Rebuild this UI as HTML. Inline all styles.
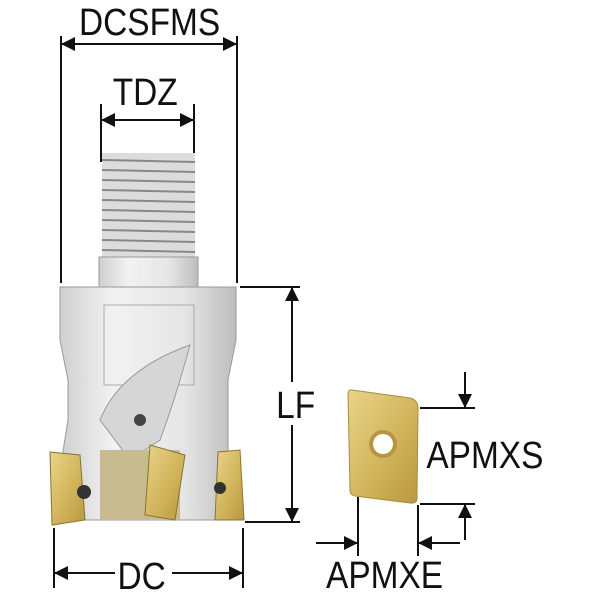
<!DOCTYPE html>
<html><head><style>
html,body{margin:0;padding:0;background:#fff;width:600px;height:600px;overflow:hidden}
text{font-family:"Liberation Sans",sans-serif;fill:#111}
</style></head><body>
<svg width="600" height="600" viewBox="0 0 600 600" xmlns="http://www.w3.org/2000/svg">
<defs>
<linearGradient id="body" x1="0" x2="1" y1="0" y2="0">
<stop offset="0" stop-color="#cfcfcf"/><stop offset="0.3" stop-color="#f2f2f2"/><stop offset="0.7" stop-color="#e6e6e6"/><stop offset="1" stop-color="#bdbdbd"/>
</linearGradient>
<linearGradient id="gold" x1="0" x2="1" y1="0" y2="1">
<stop offset="0" stop-color="#e8d48a"/><stop offset="0.5" stop-color="#d4b860"/><stop offset="1" stop-color="#b8983e"/>
</linearGradient>
<marker id="b" viewBox="0 0 10 10" refX="10" refY="5" markerWidth="18" markerHeight="14" orient="auto-start-reverse" markerUnits="userSpaceOnUse"><path d="M0,0L10,5L0,10z" fill="#111"/></marker>
</defs>
<g stroke="#111" stroke-width="2" fill="none">
<line x1="61" y1="36" x2="61" y2="283"/><line x1="237" y1="36" x2="237" y2="283"/>
<line x1="61" y1="44" x2="237" y2="44" marker-start="url(#b)" marker-end="url(#b)"/>
<line x1="101" y1="104" x2="101" y2="162"/><line x1="194" y1="104" x2="194" y2="162"/>
<line x1="101" y1="120" x2="194" y2="120" marker-start="url(#b)" marker-end="url(#b)"/>
<line x1="240" y1="287" x2="300" y2="287"/><line x1="245" y1="522" x2="300" y2="522"/>
<line x1="292" y1="287" x2="292" y2="382" marker-start="url(#b)"/>
<line x1="292" y1="425" x2="292" y2="522" marker-end="url(#b)"/>
<line x1="54" y1="528" x2="54" y2="588"/><line x1="243" y1="528" x2="243" y2="588"/>
<line x1="54" y1="573" x2="115" y2="573" marker-start="url(#b)"/>
<line x1="172" y1="573" x2="243" y2="573" marker-end="url(#b)"/>
<line x1="420" y1="408" x2="475" y2="408"/><line x1="465" y1="372" x2="465" y2="408" marker-end="url(#b)"/>
<line x1="420" y1="504" x2="475" y2="504"/><line x1="465" y1="540" x2="465" y2="504" marker-end="url(#b)"/>
<line x1="358" y1="497" x2="358" y2="556"/><line x1="418" y1="505" x2="418" y2="556"/>
<line x1="316" y1="543" x2="358" y2="543" marker-end="url(#b)"/>
<line x1="460" y1="543" x2="418" y2="543" marker-end="url(#b)"/>
</g>
<rect x="102" y="153" width="93" height="104" fill="#dcdcdc"/>
<g stroke="#888" stroke-width="2">
<line x1="102" y1="160" x2="195" y2="162"/><line x1="102" y1="170" x2="195" y2="172"/><line x1="102" y1="180" x2="195" y2="182"/><line x1="102" y1="190" x2="195" y2="192"/><line x1="102" y1="200" x2="195" y2="202"/><line x1="102" y1="210" x2="195" y2="212"/><line x1="102" y1="220" x2="195" y2="222"/><line x1="102" y1="230" x2="195" y2="232"/><line x1="102" y1="240" x2="195" y2="242"/><line x1="102" y1="250" x2="195" y2="252"/>
</g>
<rect x="99" y="257" width="99" height="30" fill="url(#body)" stroke="#999"/>
<path d="M60 287 H236 V340 L228 380 V520 H60 V470 L68 420 V380 L60 340 Z" fill="url(#body)" stroke="#999"/>
<rect x="104" y="305" width="90" height="80" fill="none" stroke="#aaa"/>
<path d="M100 420 Q120 370 190 345 Q175 400 160 440 L130 460 Z" fill="#d6d6d6" stroke="#999"/>
<rect x="100" y="450" width="80" height="70" fill="#c9bb90"/>
<circle cx="140" cy="420" r="6" fill="#444"/>
<path d="M50 452 L80 455 L85 520 L52 525 Z" fill="url(#gold)" stroke="#8a7330"/>
<circle cx="84" cy="492" r="7" fill="#333"/>
<path d="M150 445 L185 455 L175 520 L145 515 Z" fill="url(#gold)" stroke="#8a7330"/>
<path d="M218 452 L240 450 L244 520 L215 520 Z" fill="url(#gold)" stroke="#8a7330"/>
<circle cx="220" cy="488" r="6" fill="#333"/>
<path d="M352 390 L410 398 Q418 400 418 408 L417 498 Q417 504 410 503 L355 496 Q350 495 350 490 L348 395 Q348 389 352 390 Z" fill="url(#gold)" stroke="#a88d40"/>
<circle cx="383" cy="444" r="14" fill="#b89540"/>
<circle cx="383" cy="444" r="10" fill="#fff"/>
<g style="font-size:38px" transform="scale(0.88,1)">
<text x="170" y="35" text-anchor="middle">DCSFMS</text>
<text x="165" y="105" text-anchor="middle">TDZ</text>
<text x="336" y="418" text-anchor="middle">LF</text>
<text x="161" y="589" text-anchor="middle">DC</text>
<text x="551" y="468" text-anchor="middle">APMXS</text>
<text x="437" y="588" text-anchor="middle">APMXE</text>
</g>
</svg>
</body></html>
